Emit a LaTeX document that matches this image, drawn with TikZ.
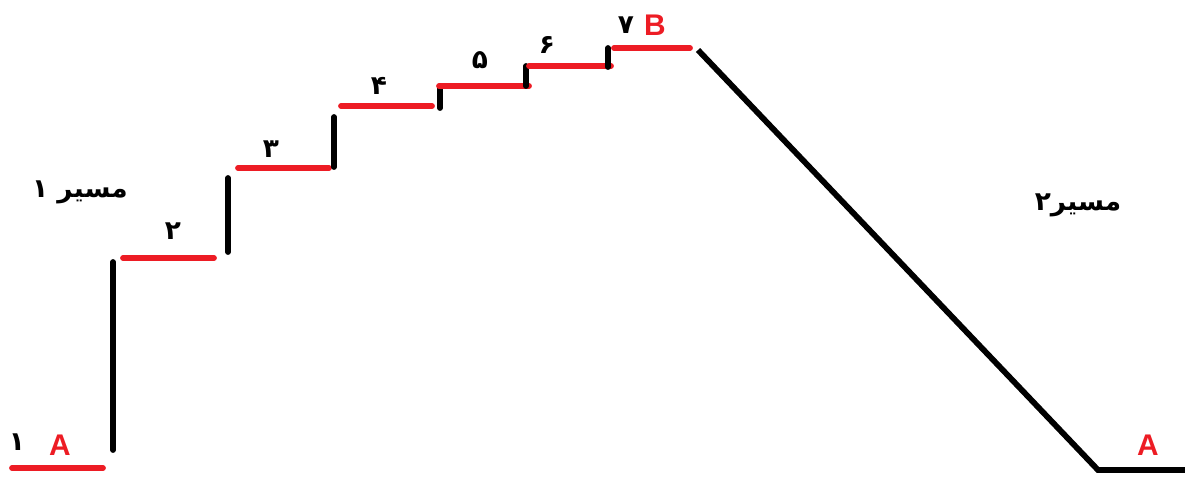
\documentclass[tikz,border=0pt]{standalone}
\usepackage{fontspec}
\setmainfont{Liberation Sans}
\newfontfamily\arabicfont[Script=Arabic]{DejaVu Sans}
\TeXXeTstate=1
\usepackage{tikz}
\definecolor{stepred}{RGB}{237,28,36}

\begin{document}
\begin{tikzpicture}[x=0.02cm, y=-0.02cm,
    tread/.style={stepred, line width=3.3pt, line cap=round},
    riser/.style={black, line width=3.3pt, line cap=round},
    slope/.style={black, line width=3.3pt},
    numlbl/.style={font=\arabicfont\bfseries\fontsize{15}{15}\selectfont},
    ptlbl/.style={stepred, font=\bfseries\fontsize{17}{17}\selectfont}]
  \useasboundingbox (0,0) rectangle (1185,478);
  % path 1: treads (red) and risers (black)
  \draw[tread] (12,468) -- (103,468);
  \draw[riser] (113,450) -- (113,262);
  \draw[tread] (123,258) -- (214,258);
  \draw[riser] (228,252) -- (228,178);
  \draw[tread] (238,168) -- (329,168);
  \draw[riser] (334,167) -- (334,117);
  \draw[tread] (341,106) -- (432,106);
  \draw[riser] (440,108) -- (440,87);
  \draw[tread] (439,86) -- (529,86);
  \draw[riser] (526,86) -- (526,66);
  \draw[tread] (529,66) -- (611,66);
  \draw[riser] (608,67) -- (608,48);
  \draw[tread] (614,48) -- (690,48);
  % path 2: straight slope back down
  \coordinate (top) at (698,50);
  \coordinate (foot) at (1098,470);
  \coordinate (end) at (1185,470);
  \draw[slope] (top) -- (foot) -- (end);
  % labels
  \node[numlbl] (n1) at (17,442) {۱};
  \node[ptlbl] (a1) at (60,445) {A};
  \node[numlbl] (n2) at (173,231) {۲};
  \node[numlbl] (n3) at (271,149) {۳};
  \node[numlbl] (n4) at (379,86) {۴};
  \node[numlbl] (n5) at (480,60) {۵};
  \node[numlbl] (n6) at (547,45) {۶};
  \node[numlbl] (n7) at (626,25) {۷};
  \node[ptlbl] (b) at (655,25) {B};
  \node[ptlbl] (a2) at (1148,445) {A};
  \node[numlbl] (route1) at (80,192) {\beginR مسیر ۱\endR};
  \node[numlbl] (route2) at (1078,205) {\beginR مسیر۲\endR};
\end{tikzpicture}
\end{document}
